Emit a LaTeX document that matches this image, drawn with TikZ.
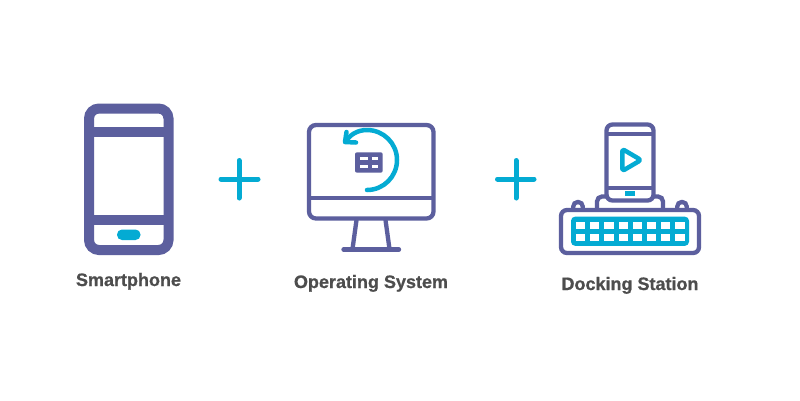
\documentclass[tikz,border=0pt]{standalone}
\usepackage{fontspec}
\setmainfont{Liberation Sans}[BoldFeatures={FakeBold=0.8}]
\definecolor{ppl}{HTML}{5C5F9E}
\definecolor{teal2}{HTML}{04ABD3}
\definecolor{lab}{HTML}{4D4D4D}
\tikzset{
  thick5/.style={draw=ppl,line width=4.3pt},
  thick10/.style={draw=ppl,line width=10pt},
  tealline/.style={draw=teal2,line width=4.5pt,line cap=round,line join=round},
  plusline/.style={draw=teal2,line width=5pt,line cap=round},
  lbl/.style={text=lab,font=\bfseries\fontsize{18}{20}\selectfont,inner sep=0pt,anchor=base}
}
\begin{document}
\begin{tikzpicture}[x=1pt,y=-1pt]
\useasboundingbox (0,0) rectangle (800,400);
\fill[white] (0,0) rectangle (800,400);
% smartphone
\draw[thick10,rounded corners=10pt] (89,108.5) rectangle (168.5,250);
\draw[thick10] (89,132) -- (168.5,132);
\draw[thick10] (89,220) -- (168.5,220);
\fill[teal2,rounded corners=5pt] (117,229.5) rectangle (140.5,240);
% plus 1
\draw[plusline] (221,179) -- (258,179);
\draw[plusline] (239,160.5) -- (239,198);
% monitor
\draw[thick5,rounded corners=7pt] (309,125) rectangle (433.5,218.5);
\draw[thick5] (309,198) -- (433.5,198);
\draw[thick5] (356.5,220) -- (352.5,249);
\draw[thick5] (385.5,220) -- (389.5,249);
\draw[thick5,line cap=round] (343.5,249.5) -- (399,249.5);
% rotate arrow
\draw[tealline] (367,190) arc[start angle=90,end angle=-90,radius=30] .. controls (357,130) and (350,135) .. (345.5,141.5);
\draw[tealline] (346.5,132) -- (345,142) -- (356,142.5);
% table icon
\fill[ppl,rounded corners=2pt] (355,152.3) rectangle (382.7,172.7);
\fill[white] (360,157.3) rectangle (367.7,160);
\fill[white] (371.7,157.3) rectangle (378.3,160);
\fill[white] (360,165) rectangle (367.7,167.7);
\fill[white] (371.7,165) rectangle (378.3,167.7);
% plus 2
\draw[plusline] (497.5,179) -- (534,179);
\draw[plusline] (516,160.5) -- (516,198);
% dock stem and tabs
\draw[thick5,rounded corners=5pt] (597,208) -- (597,196.5) -- (663,196.5) -- (663,208);
\draw[thick5,rounded corners=4.4pt] (573.3,208) -- (573.3,202) -- (582.7,202) -- (582.7,208);
\draw[thick5,rounded corners=4.4pt] (677.3,208) -- (677.3,202) -- (686.7,202) -- (686.7,208);
% dock phone
\filldraw[thick5,fill=white,rounded corners=6pt] (606.5,124.5) rectangle (653.5,200.5);
\draw[thick5] (606.5,134) -- (653.5,134);
\draw[thick5] (606.5,188) -- (653.5,188);
\fill[teal2] (625,191) rectangle (635,195.7);
\draw[tealline,rounded corners=2.5pt] (622.3,149) -- (641,160) -- (622.3,171) -- cycle;
% dock body
\filldraw[thick5,fill=white,rounded corners=6pt] (561,210) rectangle (699,253);
\fill[teal2,rounded corners=4pt] (571,216.7) rectangle (689,245.8);
\foreach \i in {0,...,7}{
  \fill[white] ({576+14.2*\i},222) rectangle ++(9.1,7.3);
  \fill[white] ({576+14.2*\i},234) rectangle ++(9.1,7.3);
}
% labels
\node[lbl] (smart) at (128.5,286) {Smartphone};
\node[lbl] (os) at (371,288) {Operating System};
\node[lbl] (dock) at (630,290) {Docking Station};
\end{tikzpicture}
\end{document}
